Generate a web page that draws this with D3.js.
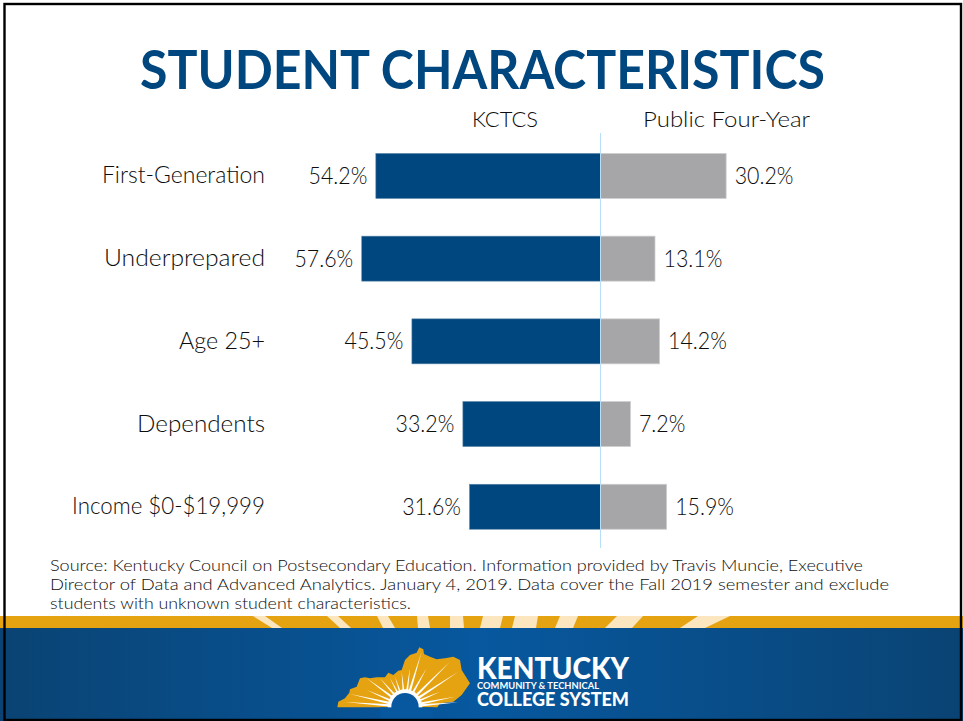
<!DOCTYPE html>
<html>
<head>
<meta charset="utf-8">
<script src="https://cdn.jsdelivr.net/npm/d3@7"></script>
<style>
    html, body { margin: 0; padding: 0; background: #fff; }
    svg { display: block; }
    text { font-family: Lato, "Open Sans", sans-serif; fill: #0d0d0d; }
</style>
</head>
<body>
<svg id="chart"></svg>
<script>
const categories = ["First-Generation", "Underprepared", "Age 25+", "Dependents", "Income $0-$19,999"];
const kctcs = [54.2, 57.6, 45.5, 33.2, 31.6];
const publicFourYear = [30.2, 13.1, 14.2, 7.2, 15.9];
const seriesNames = ["KCTCS", "Public Four-Year"];
const sourceLines = [
    "Source: Kentucky Council on Postsecondary Education. Information provided by Travis Muncie, Executive",
    "Director of Data and Advanced Analytics. January 4, 2019. Data cover the Fall 2019 semester and exclude",
    "students with unknown student characteristics."
];

const width = 963, height = 721;
const blue = "#00467f", gray = "#a6a6a8", gold = "#e5a312";
const valueStretch = 0.93; // 값 레이블 폭 맞춤
const categoryWidths = [163, 161, 86, 128, 193]; // 원본 폰트 폭에 맞춘 길이

const svg = d3.select("#chart").attr("width", width).attr("height", height);

// 제목
svg.append("text")
    .attr("x", 140).attr("y", 89)
    .attr("textLength", 685).attr("lengthAdjust", "spacingAndGlyphs")
    .style("font-size", "54px").style("font-weight", 700).style("fill", blue)
    .text("STUDENT CHARACTERISTICS");

// 스케일
const zero = 600.5;
const xLeft = d3.scaleLinear().domain([0, 100]).range([zero, zero - 414.5]);
const xRight = d3.scaleLinear().domain([0, 100]).range([zero, zero + 416]);
const y = d3.scaleBand().domain(categories).range([134.6, 548.1]).paddingInner(0.456).paddingOuter(0.228);

// 막대
svg.append("g").selectAll("rect")
    .data(categories)
    .join("rect")
    .attr("x", (d, i) => xLeft(kctcs[i]))
    .attr("y", d => y(d))
    .attr("width", (d, i) => zero - xLeft(kctcs[i]))
    .attr("height", y.bandwidth())
    .attr("fill", blue)
    .attr("stroke", "#5c87ab").attr("stroke-width", 0.6);

svg.append("g").selectAll("rect")
    .data(categories)
    .join("rect")
    .attr("x", zero)
    .attr("y", d => y(d))
    .attr("width", (d, i) => xRight(publicFourYear[i]) - zero)
    .attr("height", y.bandwidth())
    .attr("fill", gray)
    .attr("stroke", "#cfcfd0").attr("stroke-width", 0.8);

// 중심선
svg.append("line")
    .attr("x1", zero).attr("x2", zero)
    .attr("y1", 133).attr("y2", 548)
    .attr("stroke", "#b9def7").attr("stroke-width", 1);

// 값 레이블
const fmt = v => v.toFixed(1) + "%";
function stretched(sel, anchorX, anchor) {
    sel.attr("transform", (d, i) => `translate(${anchorX(d, i)},${y(d) + y.bandwidth() / 2 + 8}) scale(${valueStretch},1)`)
        .attr("text-anchor", anchor)
        .style("font-size", "23px").style("font-weight", 300);
}
svg.append("g").selectAll("text")
    .data(categories)
    .join("text")
    .call(stretched, (d, i) => xLeft(kctcs[i]) - 8.5, "end")
    .text((d, i) => fmt(kctcs[i]));

svg.append("g").selectAll("text")
    .data(categories)
    .join("text")
    .call(stretched, (d, i) => xRight(publicFourYear[i]) + 8.5, "start")
    .text((d, i) => fmt(publicFourYear[i]));

// 카테고리 축
const axis = svg.append("g")
    .attr("transform", "translate(265,0)")
    .call(d3.axisLeft(y).tickSize(0).tickPadding(0));
axis.select(".domain").remove();
axis.selectAll("text")
    .attr("x", 0).attr("dy", null).attr("y", 7.5)
    .attr("text-anchor", "end")
    .attr("textLength", (d, i) => categoryWidths[i]).attr("lengthAdjust", "spacingAndGlyphs")
    .style("font-size", "23px").style("font-weight", 300);

// 시리즈 제목
svg.append("g").selectAll("text")
    .data(seriesNames)
    .join("text")
    .attr("x", (d, i) => [472, 643][i]).attr("y", 127)
    .attr("textLength", (d, i) => [66, 167][i]).attr("lengthAdjust", "spacingAndGlyphs")
    .style("font-size", "21px").style("font-weight", 300)
    .text(d => d);

// 출처
svg.append("g").selectAll("text")
    .data(sourceLines)
    .join("text")
    .attr("x", 50).attr("y", (d, i) => [570.7, 589.5, 609][i])
    .attr("textLength", (d, i) => [813, 839, 361][i]).attr("lengthAdjust", "spacingAndGlyphs")
    .style("font-size", "15.5px").style("font-weight", 300)
    .text(d => d);

// 하단 띠
const defs = svg.append("defs");
const grad = defs.append("linearGradient").attr("id", "footerBlue");
grad.append("stop").attr("offset", "0%").attr("stop-color", "#0a4373");
grad.append("stop").attr("offset", "50%").attr("stop-color", "#07589f");
grad.append("stop").attr("offset", "100%").attr("stop-color", "#0a4373");

svg.append("rect").attr("x", 0).attr("y", 616).attr("width", width).attr("height", 12).attr("fill", gold);
svg.append("rect").attr("x", 0).attr("y", 628).attr("width", width).attr("height", 93).attr("fill", "url(#footerBlue)");

// 띠 위의 빛줄기 [위 왼쪽, 위 오른쪽, 아래 오른쪽, 아래 왼쪽]
const rays = [
    [253, 265, 282, 272], [327, 338, 351, 340], [377, 388, 395, 383], [417, 428, 430, 418],
    [450, 463, 464, 450], [483, 503, 500, 480], [515, 538, 536, 512], [560, 578, 573, 555],
    [617, 643, 632, 605], [698, 730, 705, 680]
];
svg.append("g").selectAll("polygon")
    .data(rays)
    .join("polygon")
    .attr("points", d => `${d[0]},616 ${d[1]},616 ${d[2]},628 ${d[3]},628`)
    .attr("fill", "#fbe6c0");

// 로고
const logo = svg.append("g").attr("transform", "translate(330,640) scale(0.3333)");
const kyOutline = [[22,202],[25,185],[45,175],[58,158],[60,148],[80,140],[90,115],[105,112],[120,115],[140,112],[165,112],
    [175,98],[190,105],[205,92],[215,90],[225,60],[240,45],[260,38],[268,22],[280,28],[282,42],[300,50],[320,58],[345,55],
    [370,50],[390,60],[395,90],[420,130],[395,165],[370,185],[330,190],[322,202]];
logo.append("path").attr("d", d3.line()(kyOutline)).attr("fill", gold);

const rayTips = [[45,186],[60,162],[110,150],[110,115],[150,115],[180,115],[195,110],[215,95],[240,85],[275,35],
    [290,85],[360,65],[385,95],[330,155],[375,170],[385,187]];
const cx = 225, cy = 200;
logo.append("g").selectAll("path")
    .data(rayTips)
    .join("path")
    .attr("d", d => {
        const a = Math.atan2(d[1] - cy, d[0] - cx) + Math.PI / 2;
        const w = 5;
        return d3.line()([[cx + w * Math.cos(a), cy + w * Math.sin(a)], d, [cx - w * Math.cos(a), cy - w * Math.sin(a)]]) + "Z";
    })
    .attr("fill", "#fff");
logo.append("circle").attr("cx", cx).attr("cy", cy).attr("r", 52).attr("fill", "#fff");
logo.append("circle").attr("cx", cx).attr("cy", cy).attr("r", 41).attr("fill", "#07589f");
logo.append("rect").attr("x", 150).attr("y", 202).attr("width", 160).attr("height", 70).attr("fill", "#07589f");

const logoText = svg.append("g");
logoText.append("text")
    .attr("x", 477).attr("y", 679)
    .attr("textLength", 152).attr("lengthAdjust", "spacingAndGlyphs")
    .style("font-size", "31px").style("font-weight", 900).style("fill", "#fff")
    .text("KENTUCKY");
logoText.append("text")
    .attr("x", 477).attr("y", 689)
    .attr("textLength", 122).attr("lengthAdjust", "spacingAndGlyphs")
    .style("font-size", "10px").style("font-weight", 700).style("fill", "#fff")
    .text("COMMUNITY & TECHNICAL");
logoText.append("text")
    .attr("x", 477).attr("y", 706)
    .attr("textLength", 152).attr("lengthAdjust", "spacingAndGlyphs")
    .style("font-size", "19px").style("font-weight", 900).style("fill", "#fff")
    .text("COLLEGE SYSTEM");

// 테두리
svg.append("rect")
    .attr("x", 4.5).attr("y", 4).attr("width", 956.5).attr("height", 716)
    .attr("fill", "none").attr("stroke", "#000").attr("stroke-width", 2.4);
</script>
</body>
</html>
